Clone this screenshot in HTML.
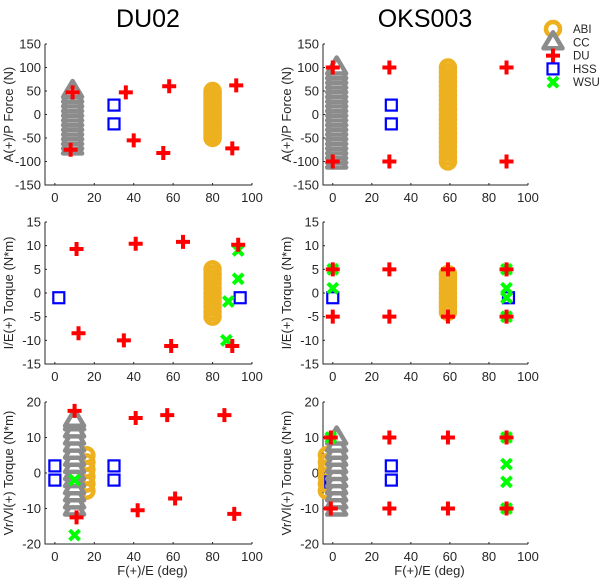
<!DOCTYPE html>
<html><head><meta charset="utf-8"><style>
html,body{margin:0;padding:0;background:#fff;}
svg{display:block;font-family:"Liberation Sans",Arial,sans-serif;}
</style></head><body>
<svg id="fig" width="600" height="583" viewBox="0 0 600 583" xmlns="http://www.w3.org/2000/svg">
<text x="148" y="27" font-size="25" text-anchor="middle" fill="#000">DU02</text>
<text x="425" y="27" font-size="25" text-anchor="middle" fill="#000">OKS003</text>
<g id="legend"></g>
</svg>
<script>
// Data arrays
const xTicks=[0,20,40,60,80,100];
const yTicksForce=[-150,-100,-50,0,50,100,150];
const yTicksIE=[-15,-10,-5,0,5,10,15];
const yTicksVV=[-20,-10,0,10,20];
const legendLabels=["ABI","CC","DU","HSS","WSU"];

// Panel 1: DU02 A/P force
const p1_abi_x=[80,80,80,80,80,80,80,80,80,80,80,80,80,80,80,80,80,80,80,80,80];
const p1_abi_y=[-50,-45,-40,-35,-30,-25,-20,-15,-10,-5,0,5,10,15,20,25,30,35,40,45,50];
const p1_cc_x=[9,9,9,9,9,9,9,9,9,9,9,9,9];
const p1_cc_y=[-70,-60,-50,-40,-30,-20,-10,0,10,20,30,40,50];
const p1_du_x=[8,9,36,40,58,55,92,90];
const p1_du_y=[-75,47,47,-55,60,-82,62,-72];
const p1_hss_x=[30,30];
const p1_hss_y=[20,-20];
const p1_wsu_x=[];
const p1_wsu_y=[];

// Panel 2: DU02 I/E torque
const p2_abi_x=[80,80,80,80,80,80,80,80,80,80,80];
const p2_abi_y=[-5,-4,-3,-2,-1,0,1,2,3,4,5];
const p2_cc_x=[];
const p2_cc_y=[];
const p2_du_x=[11,12,35,41,59,65,90,93];
const p2_du_y=[9.3,-8.5,-10,10.4,-11.2,10.8,-11.2,10.2];
const p2_hss_x=[2,94];
const p2_hss_y=[-1,-1];
const p2_wsu_x=[93,93,88,87];
const p2_wsu_y=[9,3,-1.8,-10];

// Panel 3: DU02 Vr/Vl torque
const p3_abi_x=[16,16,16,16,16,16];
const p3_abi_y=[5,3,1,-1,-3,-5];
const p3_cc_x=[10,10,10,10,10,10,10,10,10,10,10,10,10,10];
const p3_cc_y=[-10,-8,-6,-4,-2,0,2,4,6,8,10,12,14,15];
const p3_du_x=[10,11,41,42,57,61,86,91];
const p3_du_y=[17.5,-12.5,15.5,-10.5,16.3,-7.2,16.3,-11.5];
const p3_hss_x=[0,0,30,30];
const p3_hss_y=[2,-2,2,-2];
const p3_wsu_x=[10,10];
const p3_wsu_y=[-2,-17.5];

// Panel 4: OKS003 A/P force
const p4_abi_x=[59,59,59,59,59,59,59,59,59,59,59,59,59,59,59,59,59,59,59,59,59];
const p4_abi_y=[-100,-90,-80,-70,-60,-50,-40,-30,-20,-10,0,10,20,30,40,50,60,70,80,90,100];
const p4_cc_x=[2,2,2,2,2,2,2,2,2,2,2,2,2,2,2,2,2,2,2,2,2];
const p4_cc_y=[-100,-90,-80,-70,-60,-50,-40,-30,-20,-10,0,10,20,30,40,50,60,70,80,90,100];
const p4_du_x=[0,0,29,29,89,89];
const p4_du_y=[100,-100,100,-100,100,-100];
const p4_hss_x=[30,30];
const p4_hss_y=[20,-20];
const p4_wsu_x=[];
const p4_wsu_y=[];

// Panel 5: OKS003 I/E torque
const p5_abi_x=[59,59,59,59,59,59,59,59,59];
const p5_abi_y=[-4,-3,-2,-1,0,1,2,3,4];
const p5_cc_x=[];
const p5_cc_y=[];
const p5_du_x=[0,0,29,29,59,59,89,89];
const p5_du_y=[5,-5,5,-5,5,-5,5,-5];
const p5_hss_x=[0,90];
const p5_hss_y=[-1,-1];
const p5_wsu_x=[0,0,89,89,89,89];
const p5_wsu_y=[5,1,5,1,-1,-5];

// Panel 6: OKS003 Vr/Vl torque
const p6_abi_x=[-3,-3,-3,-3,-3,-3];
const p6_abi_y=[5,3,1,-1,-3,-5];
const p6_cc_x=[2,2,2,2,2,2,2,2,2,2,2];
const p6_cc_y=[-10,-8,-6,-4,-2,0,2,4,6,8,10];
const p6_du_x=[-1,-1,29,29,59,59,89,89];
const p6_du_y=[10,-10,10,-10,10,-10,10,-10];
const p6_hss_x=[30,30,-1];
const p6_hss_y=[2,-2,-2.5];
const p6_wsu_x=[-1,89,89,89,89];
const p6_wsu_y=[10,10,2.5,-2.5,-10];

const NS="http://www.w3.org/2000/svg";
const svg=document.getElementById('fig');
function mk(tag,attrs,parent){const e=document.createElementNS(NS,tag);for(const k in attrs)e.setAttribute(k,attrs[k]);(parent||svg).appendChild(e);return e;}

const ORANGE="#EDB120",GRAY="#8c8c8c",RED="#ff0000",BLUE="#0000ff",GREEN="#00ff00";
function drawMarker(type,cx,cy,g){
  let e;
  if(type==='abi'){e=mk('circle',{cx:cx,cy:cy,r:7,fill:'none',stroke:ORANGE,'stroke-width':4.5},g);}
  else if(type==='cc'){e=mk('path',{d:`M${cx},${cy-10}L${cx+9.5},${cy+6}L${cx-9.5},${cy+6}Z`,fill:'#fff',stroke:GRAY,'stroke-width':4.5,'stroke-linejoin':'round'},g);}
  else if(type==='du'){e=mk('path',{d:`M${cx-7},${cy}H${cx+7}M${cx},${cy-7}V${cy+7}`,stroke:RED,'stroke-width':4,fill:'none'},g);}
  else if(type==='hss'){e=mk('rect',{x:cx-5.5,y:cy-5.5,width:11,height:11,fill:'none',stroke:BLUE,'stroke-width':2.2},g);}
  else {e=mk('path',{d:`M${cx-5},${cy-5}L${cx+5},${cy+5}M${cx+5},${cy-5}L${cx-5},${cy+5}`,stroke:GREEN,'stroke-width':4,fill:'none'},g);}
  return e;
}

const cols=[{x0:45,x1:252,ylx:13,name:'du02'},{x0:323,x1:528,ylx:291,name:'oks003'}];
const rows=[{y0:44,y1:185,min:-150,max:150,ticks:yTicksForce,label:'A(+)/P Force (N)',name:'force'},
            {y0:222,y1:364,min:-15,max:15,ticks:yTicksIE,label:'I/E(+) Torque (N*m)',name:'ie-torque'},
            {y0:402,y1:544,min:-20,max:20,ticks:yTicksVV,label:'Vr/Vl(+) Torque (N*m)',name:'vv-torque'}];
const panels=[
 [[p1_abi_x,p1_abi_y],[p1_cc_x,p1_cc_y],[p1_hss_x,p1_hss_y],[p1_wsu_x,p1_wsu_y],[p1_du_x,p1_du_y]],
 [[p2_abi_x,p2_abi_y],[p2_cc_x,p2_cc_y],[p2_hss_x,p2_hss_y],[p2_wsu_x,p2_wsu_y],[p2_du_x,p2_du_y]],
 [[p3_abi_x,p3_abi_y],[p3_cc_x,p3_cc_y],[p3_hss_x,p3_hss_y],[p3_du_x,p3_du_y],[p3_wsu_x,p3_wsu_y]],
 [[p4_abi_x,p4_abi_y],[p4_cc_x,p4_cc_y],[p4_hss_x,p4_hss_y],[p4_wsu_x,p4_wsu_y],[p4_du_x,p4_du_y]],
 [[p5_abi_x,p5_abi_y],[p5_cc_x,p5_cc_y],[p5_hss_x,p5_hss_y],[p5_wsu_x,p5_wsu_y],[p5_du_x,p5_du_y]],
 [[p6_abi_x,p6_abi_y],[p6_hss_x,p6_hss_y],[p6_cc_x,p6_cc_y],[p6_wsu_x,p6_wsu_y],[p6_du_x,p6_du_y]]
];
const kinds=[['abi','cc','hss','wsu','du'],['abi','cc','hss','wsu','du'],['abi','cc','hss','du','wsu'],
             ['abi','cc','hss','wsu','du'],['abi','cc','hss','wsu','du'],['abi','hss','cc','wsu','du']];

for(let c=0;c<2;c++)for(let r=0;r<3;r++){
  const C=cols[c],R=rows[r],idx=c*3+r;
  const xs=v=>C.x0+(v+5)/105*(C.x1-C.x0);
  const ys=v=>R.y1-(v-R.min)/(R.max-R.min)*(R.y1-R.y0);
  const g=mk('g',{});
  
  
  const ax=mk('path',{d:`M${C.x0},${R.y0}V${R.y1}H${C.x1}`,stroke:'#262626','stroke-width':1,fill:'none'},g);
  
  
  xTicks.forEach(t=>{
    const x=xs(t);
    mk('line',{x1:x,x2:x,y1:R.y1,y2:R.y1-2,stroke:'#262626'},g);
    const tx=mk('text',{x:x,y:R.y1+17,'font-size':13,'text-anchor':'middle',fill:'#262626'},g);tx.textContent=t;
    
    
  });
  R.ticks.forEach(t=>{
    const y=ys(t);
    mk('line',{x1:C.x0,x2:C.x0+2,y1:y,y2:y,stroke:'#262626'},g);
    const tx=mk('text',{x:C.x0-4,y:y+4.5,'font-size':13,'text-anchor':'end',fill:'#262626'},g);tx.textContent=t;
    
    
  });
  const yl=mk('text',{x:C.ylx,y:(R.y0+R.y1)/2,'font-size':13,'text-anchor':'middle',fill:'#262626',transform:`rotate(-90 ${C.ylx} ${(R.y0+R.y1)/2})`},g);
  yl.textContent=R.label;
  
  
  if(r===2){
    const xl=mk('text',{x:(C.x0+C.x1)/2+4,y:R.y1+31,'font-size':13,'text-anchor':'middle',fill:'#262626'},g);
    xl.textContent='F(+)/E (deg)';
    
    
  }
  panels[idx].forEach((s,si)=>{
    const k=kinds[idx][si];
    for(let i=0;i<s[0].length;i++){
      const m=drawMarker(k,xs(s[0][i]),ys(s[1][i]),g);
      
      
    }
  });
}
const lg=document.getElementById('legend');
const lk=['abi','cc','du','hss','wsu'];
legendLabels.forEach((l,i)=>{
  const y=29+i*13.3;
  const m=drawMarker(lk[i],553,y,lg);
  
  
  const t=mk('text',{x:573,y:y+4,'font-size':11.5,fill:'#262626'},lg);t.textContent=l;
  
  
});
</script>
</body></html>
